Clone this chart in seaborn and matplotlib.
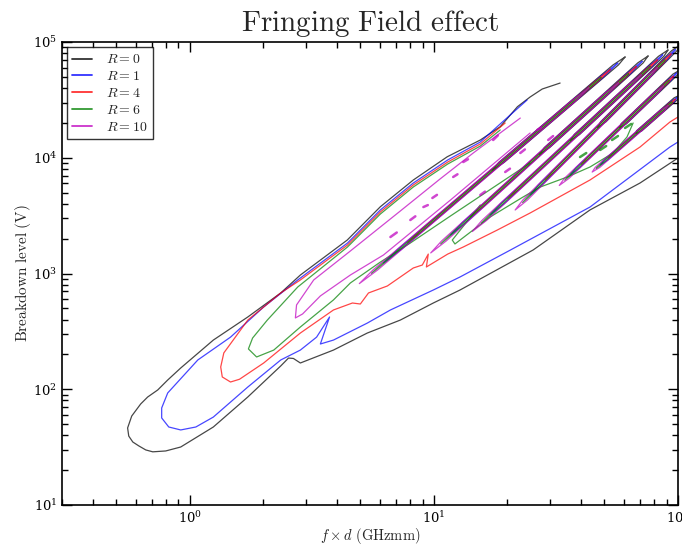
import numpy as np
import pandas as pd
import matplotlib
matplotlib.use("Agg")
import matplotlib.pyplot as plt
from matplotlib.lines import Line2D
import seaborn as sns

# ---------------- data ----------------
r_labels = [r"$R = 0$", r"$R = 1$", r"$R = 4$", r"$R = 6$", r"$R = 10$"]
r_colors = ["#000000", "#0000ff", "#ff0000", "#008000", "#bf00bf"]

# main susceptibility boundaries  (f*d in GHz mm, V in volts)
r0_x = [100, 69.9, 43.6, 25.5, 12.8, 9.95, 7.29, 5.34, 3.88, 2.84, 2.66, 2.54, 2.36, 1.73, 1.25,
        0.919, 0.798, 0.706, 0.661, 0.619, 0.585, 0.563, 0.557, 0.579, 0.630, 0.673, 0.740, 0.813,
        0.919, 1.25, 1.73, 2.36, 2.84, 4.42, 6.04, 8.24, 11.35, 15.5, 18.7, 22.0, 24.8, 27.8, 32.9]
r0_y = [9950, 6050, 3540, 1596, 720, 556, 396, 306, 218, 168.6, 184.5, 186, 158.9, 85.7, 47.2,
        31.7, 29.3, 28.8, 29.9, 32.4, 35.0, 39.4, 46.3, 58.7, 74.6, 85.7, 98.6, 120.2,
        152.6, 266, 421, 679, 970, 1946, 3775, 6423, 10200, 14230, 18540, 27600, 33500, 39260, 44200]

r1_x = [100, 92.7, 43.6, 20.6, 12.8, 9.95, 6.64, 5.34, 3.88, 3.43, 3.74, 3.31, 2.84, 2.36, 1.73,
        1.25, 1.06, 0.919, 0.821, 0.768, 0.768, 0.813, 1.08, 1.47, 2.01, 2.77, 4.43, 6.04, 8.24,
        11.4, 15.5, 18.7, 24.1]
r1_y = [13680, 12380, 3750, 1596, 933, 720, 484, 373, 266, 246, 421, 282, 218, 179, 104.5,
        57.5, 47.2, 44.5, 47.2, 56.5, 68.9, 92.9, 179.1, 282, 514, 879, 1833, 3540, 6050,
        9570, 13680, 19590, 31550]

r4_x = [100, 92.7, 69.9, 43.6, 24.8, 18.2, 13.2, 11.4, 9.32, 9.49, 8.97, 8.24, 6.45, 5.40, 5.00,
        4.64, 3.88, 2.84, 2.01, 1.60, 1.47, 1.36, 1.34, 1.38, 1.73, 2.36, 2.84, 4.43, 6.04, 8.24,
        11.4, 15.5, 19.6]
r4_y = [22490, 20370, 12380, 6423, 3333, 2375, 1694, 1472, 1138, 1472, 1184, 1116, 780, 679, 545,
        556, 484, 306, 168.6, 122, 115.5, 127.7, 155.7, 206, 396, 679, 879, 1763, 3400, 5820,
        9180, 13150, 19970]

r6_x = [24.8, 11.7, 8.01, 6.04, 4.55, 3.88, 2.84, 2.21, 1.88, 1.74, 1.81, 2.08, 2.77, 4.43, 6.04,
        8.24, 11.4, 15.5, 18.7]
r6_y = [9020, 3141, 1833, 1256, 828, 591, 345, 218, 190, 223, 277, 396, 764, 1694, 3266,
        5590, 8830, 12620, 17380]
r6b_x = [15.5, 11.9, 12.2, 17.0, 23.2, 27.3, 35.2, 43.6, 54.2, 61.8, 65.5]
r6b_y = [3908, 1946, 1799, 3075, 4580, 5590, 6820, 8320, 10990, 15100, 19970]

r10_x = [22.6, 14.5, 10.6, 7.29, 4.55, 3.22, 2.74, 2.71, 2.90, 3.43, 4.55, 6.22, 11.7, 24.8]
r10_y = [22020, 10990, 6550, 3467, 1564, 879, 535, 413, 447, 640, 970, 1445, 4313, 16370]

# diagonal high-order fingers: lower-left start and upper-right end
fing_u_x = [6.22, 11.7, 17.0, 24.8, 36.2, 48.0]
fing_u_y = [1232, 2150, 3202, 4766, 7100, 8650]
fing_t_x = [60.7, 75.4, 91.0, 101.9, 101.9, 101.9]
fing_t_y = [74200, 75700, 85300, 94200, 57300, 34800]

# small R = 10 islands (start / end of each dash)
dash_x0 = [6.64, 8.01, 9.06, 9.86, 12.0, 13.2, 17.5, 22.6, 26.5, 15.5, 19.6, 29.4]
dash_y0 = [2066, 2897, 3750, 4490, 6820, 9180, 14230, 10990, 17380, 4766, 7530, 14230]
dash_x1 = [7.05, 8.40, 9.45, 10.3, 12.5, 13.8, 18.3, 23.6, 27.5, 16.2, 20.5, 30.8]
dash_y1 = [2260, 3120, 3900, 4780, 7200, 9700, 15600, 11800, 18100, 5100, 8050, 15400]

# small R = 6 islands
gdash_x0 = [48.0, 53.7, 39.7, 60.7]
gdash_y0 = [11670, 14230, 10140, 18070]
gdash_x1 = [50.8, 56.8, 42.1, 64.3]
gdash_y1 = [12620, 15420, 10990, 19590]

# ---------------- build long table ----------------
rows = []
seg = 0
def add(label, xs, ys):
    global seg
    for x, y in zip(xs, ys):
        rows.append((label, seg, x, y))
    seg += 1

add(r_labels[0], r0_x, r0_y)
add(r_labels[1], r1_x, r1_y)
add(r_labels[2], r4_x, r4_y)
add(r_labels[3], r6_x, r6_y)
add(r_labels[3], r6b_x, r6b_y)
add(r_labels[4], r10_x, r10_y)

# each finger: thin outline per R (start/end fraction along the finger, half width in px)
fstyle = {4: (-0.10, 0.85, 2.3), 3: (-0.05, 0.90, 1.0), 2: (0.10, 0.94, 1.5),
          1: (0.0, 0.97, 1.9), 0: (0.45, 1.00, 2.7)}
dec_px = 244.5
for ux, uy, tx, ty in zip(fing_u_x, fing_u_y, fing_t_x, fing_t_y):
    lu = np.log10([ux, uy]); lt = np.log10([tx, ty]); d = lt - lu
    for k, (s, t, w) in fstyle.items():
        a = lu + s * d; b = lu + t * d; dd = b - a
        wl = w / dec_px
        fr = [1.0, 0.93, 0.07, 0.0, 0.07, 0.93, 1.0]
        of = [0, -wl, -wl, 0, wl, wl, 0]
        xs = [10 ** (a[0] + f * dd[0] + o) for f, o in zip(fr, of)]
        ys = [10 ** (a[1] + f * dd[1]) for f in fr]
        add(r_labels[k], xs, ys)

df = pd.DataFrame(rows, columns=["R", "seg", "x", "y"])

def dash_table(label, x0, y0, x1, y1):
    return pd.DataFrame({"R": label, "seg": np.repeat(np.arange(len(x0)), 2),
                         "x": np.ravel(np.column_stack([x0, x1])),
                         "y": np.ravel(np.column_stack([y0, y1]))})

dash_df = pd.concat([dash_table(r_labels[4], dash_x0, dash_y0, dash_x1, dash_y1),
                     dash_table(r_labels[3], gdash_x0, gdash_y0, gdash_x1, gdash_y1)
                     .assign(seg=lambda d: d.seg + 100)])

# ---------------- style ----------------
sns.set_theme(style="ticks")
plt.rcParams["mathtext.fontset"] = "cm"
plt.rcParams["font.family"] = ["DejaVu Serif"]

fig = plt.figure(figsize=(6.82, 5.47), dpi=100)
ax = fig.add_axes([62 / 682, 42 / 547, 616 / 682, 463 / 547])
ax.set_xscale("log")
ax.set_yscale("log")

pal = dict(zip(r_labels, r_colors))
sns.lineplot(data=df, x="x", y="y", hue="R", units="seg", estimator=None, sort=False,
             palette=pal, hue_order=r_labels, linewidth=0.9, alpha=0.72, legend=False, ax=ax)
sns.lineplot(data=dash_df, x="x", y="y", hue="R", units="seg", estimator=None, sort=False,
             palette=pal, linewidth=1.8, alpha=0.72, legend=False, ax=ax)

ax.set_xlim(0.3, 100)
ax.set_ylim(10, 1e5)
ax.set_facecolor("white")
for sp in ax.spines.values():
    sp.set_linewidth(1.2)
    sp.set_color("black")
ax.tick_params(which="both", direction="in", top=True, right=True, colors="black",
               labelsize=9.5, width=1.0)
ax.tick_params(which="major", length=7)
ax.tick_params(which="minor", length=4)

ax.set_title(r"$\mathrm{Fringing\ Field\ effect}$", fontsize=21, pad=8)
ax.set_xlabel(r"$f\times d\ \mathrm{(GHzmm)}$", fontsize=10.5, labelpad=0)
ax.set_ylabel(r"$\mathrm{Breakdown\ level\ (V)}$", fontsize=11, labelpad=0)

handles = [Line2D([0], [0], color=c, lw=1.3, alpha=0.8) for c in r_colors]
leg = ax.legend(handles, r_labels, loc="upper left", fontsize=10, frameon=True, fancybox=False,
                borderaxespad=0.35, handlelength=1.4, handletextpad=1.0, labelspacing=0.2,
                borderpad=0.4)
leg.get_frame().set_edgecolor("black")
leg.get_frame().set_linewidth(1.0)

fig.savefig("out.png", dpi=100)
